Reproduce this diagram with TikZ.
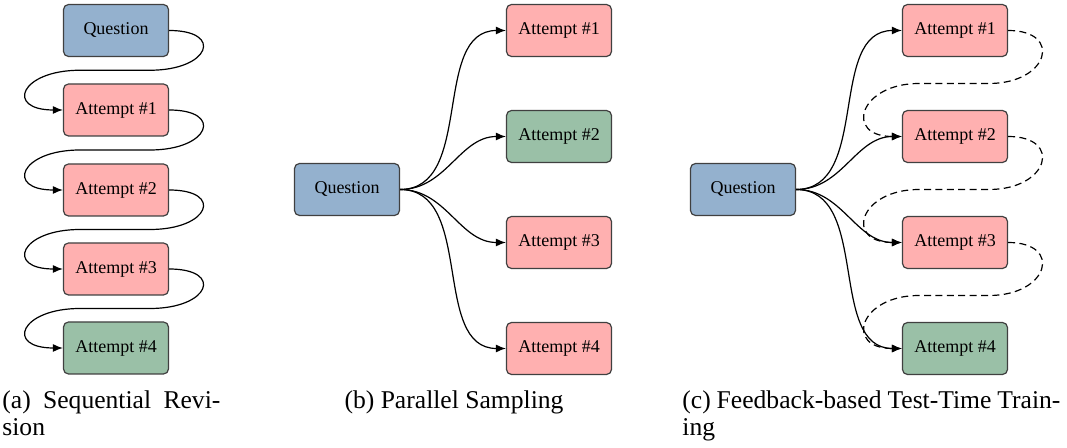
\documentclass[tikz,border=0pt]{standalone}
\usepackage{fontspec}
\setmainfont{Liberation Serif}
\usepackage{xcolor}
\usetikzlibrary{arrows.meta,calc,positioning}
\definecolor{qblue}{RGB}{148,177,206}
\definecolor{tryred}{RGB}{255,176,176}
\definecolor{okgreen}{RGB}{154,192,167}
\tikzstyle{box}=[rectangle, rounded corners=2.5pt, draw=black!75, line width=0.6pt, minimum width=52.5pt, minimum height=26pt, inner sep=2pt, font=\fontsize{9}{10.8}\selectfont]
\tikzstyle{question}=[box, fill=qblue]
\tikzstyle{attempt}=[box, fill=tryred]
\tikzstyle{solved}=[box, fill=okgreen]
\tikzstyle{arrow}=[-{Latex[length=5pt,width=4pt]}, line width=0.6pt, draw=black]
\tikzstyle{revise}=[arrow, to path={.. controls +(55,0) and +(60,0) .. ($(\tikztostart)!.5!(\tikztotarget)+(34,0)$) -- ($(\tikztostart)!.5!(\tikztotarget)+(-36,0)$) .. controls +(-60,0) and +(-58,0) .. (\tikztotarget) \tikztonodes}]
\tikzstyle{feedback}=[revise, dash pattern=on 3.5pt off 2.2pt]
\tikzstyle{fan}=[arrow, out=0, in=180]
\tikzstyle{caption}=[inner sep=0pt, align=left, font=\fontsize{12.8}{13.5}\selectfont]

\begin{document}
\begin{tikzpicture}[x=0.5pt, y=-0.5pt]
    \useasboundingbox (0,0) rectangle (1067,448);
    % (a) sequential revision
    \node [style=question] (sQ) at (116, 30.5) {Question};
    \node [style=attempt] (s1) at (116, 110) {Attempt \#1};
    \node [style=attempt] (s2) at (116, 190) {Attempt \#2};
    \node [style=attempt] (s3) at (116, 269) {Attempt \#3};
    \node [style=solved] (s4) at (116, 348) {Attempt \#4};
    \draw [style=revise] (sQ.east) to (s1.west);
    \draw [style=revise] (s1.east) to (s2.west);
    \draw [style=revise] (s2.east) to (s3.west);
    \draw [style=revise] (s3.east) to (s4.west);
    \node [style=caption, anchor=base west] (capa) at (2, 436) {\makebox[109pt][s]{(a) Sequential Revi-}\\sion};

    % (b) parallel sampling
    \node [style=question] (pQ) at (347, 189.5) {Question};
    \node [style=attempt] (p1) at (559, 30.5) {Attempt \#1};
    \node [style=solved] (p2) at (559, 136.5) {Attempt \#2};
    \node [style=attempt] (p3) at (559, 242.5) {Attempt \#3};
    \node [style=attempt] (p4) at (559, 348.5) {Attempt \#4};
    \draw [style=fan] (pQ.east) to (p1.west);
    \draw [style=fan] (pQ.east) to (p2.west);
    \draw [style=fan] (pQ.east) to (p3.west);
    \draw [style=fan] (pQ.east) to (p4.west);
    \node [style=caption, anchor=base] (capb) at (454, 409) {(b) Parallel Sampling};

    % (c) feedback-based test-time training
    \node [style=question] (fQ) at (743, 189.5) {Question};
    \node [style=attempt] (f1) at (955, 30.5) {Attempt \#1};
    \node [style=attempt] (f2) at (955, 136.5) {Attempt \#2};
    \node [style=attempt] (f3) at (955, 242.5) {Attempt \#3};
    \node [style=solved] (f4) at (955, 348.5) {Attempt \#4};
    \draw [style=fan] (fQ.east) to (f1.west);
    \draw [style=fan] (fQ.east) to (f2.west);
    \draw [style=fan] (fQ.east) to (f3.west);
    \draw [style=fan] (fQ.east) to (f4.west);
    \draw [style=feedback] (f1.east) to (f2.west);
    \draw [style=feedback] (f2.east) to (f3.west);
    \draw [style=feedback] (f3.east) to (f4.west);
    \node [style=caption, anchor=base west] (capc) at (682, 436) {\makebox[189pt][s]{(c) Feedback-based Test-Time Train-}\\ing};
\end{tikzpicture}
\end{document}
